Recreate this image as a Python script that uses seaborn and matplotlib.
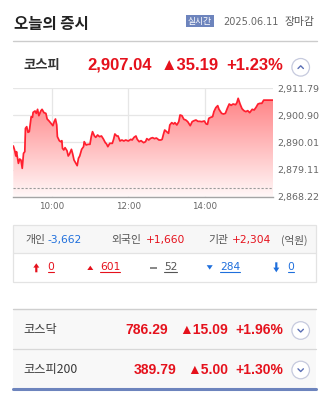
import numpy as np
import matplotlib
matplotlib.use("Agg")
import matplotlib.pyplot as plt
import seaborn as sns
from matplotlib.patches import Rectangle, Circle, Polygon, PathPatch
from matplotlib.colors import LinearSegmentedColormap

# ---------------- data ----------------
minutes = [
    0, 2, 4, 5, 8, 10, 12, 14, 16, 18,
    19, 21, 23, 25, 28, 30, 31, 34, 36, 38,
    40, 43, 45, 48, 51, 53, 56, 59, 62, 64,
    66, 68, 69, 72, 74, 76, 77, 79, 81, 84,
    86, 88, 91, 93, 95, 98, 100, 102, 104, 107,
    110, 111, 114, 117, 120, 122, 124, 127, 129, 132,
    135, 138, 141, 144, 146, 148, 151, 155, 157, 159,
    162, 164, 167, 170, 173, 176, 180, 184, 186, 189,
    192, 194, 197, 200, 204, 207, 209, 212, 215, 218,
    221, 224, 228, 231, 233, 235, 237, 240, 243, 245,
    248, 251, 253, 256, 259, 261, 264, 267, 270, 273,
    277, 280, 283, 286, 289, 292, 295, 299, 302, 304,
    306, 309, 312, 314, 317, 320, 322, 326, 329, 332,
    335, 338, 341, 344, 348, 350, 352, 355, 358, 361,
    364, 367, 370, 374, 377, 380, 383, 386, 389, 392,
    407,
]
prices = [
    2888.60, 2886.99, 2884.58, 2886.32, 2881.63, 2883.37, 2882.97, 2879.62, 2885.65, 2886.32,
    2895.70, 2896.37, 2894.09, 2894.36, 2900.39, 2900.12, 2902.13, 2902.67, 2901.73, 2903.34,
    2900.79, 2902.67, 2903.34, 2902.00, 2901.73, 2899.45, 2898.65, 2897.71, 2896.77, 2898.38,
    2899.45, 2897.04, 2892.35, 2890.74, 2890.34, 2890.74, 2887.66, 2886.99, 2887.93, 2886.72,
    2884.58, 2885.38, 2887.26, 2885.38, 2882.97, 2881.63, 2880.69, 2883.64, 2884.58, 2887.26,
    2888.33, 2890.34, 2889.00, 2889.27, 2889.27, 2892.35, 2894.36, 2892.62, 2892.08, 2893.02,
    2892.35, 2892.62, 2891.41, 2889.94, 2889.40, 2888.33, 2889.67, 2889.67, 2891.28, 2893.42,
    2892.62, 2892.62, 2890.61, 2891.01, 2890.61, 2891.01, 2890.61, 2891.28, 2891.01, 2892.08,
    2892.62, 2891.28, 2890.34, 2890.74, 2889.94, 2890.34, 2891.55, 2891.01, 2891.68, 2891.95,
    2891.55, 2891.81, 2891.01, 2891.01, 2891.28, 2893.29, 2895.03, 2894.36, 2893.69, 2897.04,
    2897.98, 2897.44, 2897.98, 2897.04, 2898.38, 2901.06, 2900.79, 2899.32, 2899.05, 2898.38,
    2896.77, 2898.38, 2898.78, 2899.05, 2898.51, 2898.51, 2898.38, 2898.65, 2897.44, 2897.31,
    2899.72, 2900.12, 2900.39, 2902.40, 2904.01, 2904.81, 2903.34, 2901.73, 2901.46, 2901.73,
    2903.74, 2905.48, 2904.95, 2905.48, 2905.21, 2906.02, 2907.76, 2905.48, 2903.61, 2902.80,
    2902.40, 2902.80, 2902.00, 2903.34, 2903.07, 2904.14, 2905.48, 2905.75, 2905.75, 2907.04,
    2907.04,
]
y_ticks = [2868.22, 2879.11, 2890.01, 2900.90, 2911.79]
x_tick_minutes = [60, 180, 300]
x_tick_labels = ["10:00", "12:00", "14:00"]
x_max = 407

kospi_close = 2907.04
kospi_change = 35.19
kospi_pct = 1.23

investor_names = ["개인", "외국인", "기관"]
investor_values = [-3662, 1660, 2304]

breadth_counts = [0, 601, 52, 284, 0]   # 상한, 상승, 보합, 하락, 하한

index_names = ["코스닥", "코스피200"]
index_values = [786.29, 389.79]
index_changes = [15.09, 5.00]
index_pcts = [1.96, 1.30]

# ---------------- style ----------------
sns.set_theme(style="white")
plt.rcParams["font.family"] = ["Noto Sans CJK KR", "DejaVu Sans"]

RED = "#e5111c"
BLUE = "#1f6fdc"
GRAY = "#555555"
LINE_RED = "#ff1f2f"

fig = plt.figure(figsize=(3.24, 3.97), dpi=100)
fig.patch.set_facecolor("white")

bg = fig.add_axes([0, 0, 1, 1])
bg.set_xlim(0, 324)
bg.set_ylim(397, 0)
bg.axis("off")

KR = ["Noto Sans CJK KR", "DejaVu Sans"]
NUM = ["Liberation Sans", "DejaVu Sans"]

# ---------------- header ----------------
bg.text(13.5, 24, "오늘의 증시", family=KR, fontsize=11.2, weight="bold", color="#222222", va="center")
bg.add_patch(Rectangle((186, 15.3), 27.5, 11.6, facecolor="#6d84bd", edgecolor="none"))
bg.text(199.8, 21.1, "실시간", family=KR, fontsize=6.3, color="white", ha="center", va="center")
bg.text(223.5, 22.3, "2025.06.11", family=["DejaVu Sans"], fontsize=7.0, color="#666666", va="center")
bg.text(284.5, 22.3, "장마감", family=KR, fontsize=7.8, color="#555555", va="center")
bg.plot([13, 317], [40.7, 40.7], color="#cccccc", lw=1)

# KOSPI row
bg.text(23, 65.5, "코스피", family=KR, fontsize=9.6, weight="bold", color="#333333", va="center")
bg.text(151.5, 65.5, f"{kospi_close:,.2f}", family=NUM, fontsize=12, weight="bold", color=RED,
        ha="right", va="center")
bg.text(218.5, 65.5, f"▲{kospi_change:.2f}", family=NUM, fontsize=12, weight="bold", color=RED,
        ha="right", va="center")
bg.text(283.5, 65.5, f"+{kospi_pct:.2f}%", family=NUM, fontsize=12, weight="bold", color=RED,
        ha="right", va="center")


def circle_button(cx, cy, up):
    bg.add_patch(Circle((cx, cy), 8.8, facecolor="white", edgecolor="#c6cade", lw=0.9))
    if up:
        bg.plot([cx - 2.7, cx, cx + 2.7], [cy + 1.2, cy - 1.5, cy + 1.2], color="#5b6fb5", lw=1)
    else:
        bg.plot([cx - 2.7, cx, cx + 2.7], [cy - 1.2, cy + 1.5, cy - 1.2], color="#5b6fb5", lw=1)


circle_button(300.7, 67.3, True)

# ---------------- chart ----------------
ax = fig.add_axes([13.3 / 324, 1 - 196.7 / 397, (273.3 - 13.3) / 324, (196.7 - 88.3) / 397])
ax.set_facecolor("white")
y0, y1 = y_ticks[0], y_ticks[-1]

poly = ax.fill_between(minutes, prices, y0, color="none", lw=0)
clip = PathPatch(poly.get_paths()[0], transform=ax.transData, facecolor="none", edgecolor="none")
ax.add_patch(clip)
cmap = LinearSegmentedColormap.from_list("g", ["#fff8f8", "#ff787b"])
grad = np.linspace(0, 1, 256).reshape(-1, 1)
im = ax.imshow(grad, extent=[0, x_max, y0, y1], origin="lower", aspect="auto", cmap=cmap, zorder=1)
im.set_clip_path(clip)

sns.lineplot(x=minutes, y=prices, ax=ax, color=LINE_RED, lw=1.25, estimator=None, sort=False, zorder=3)
ax.axhline(kospi_close - kospi_change, color="#9a9a9a", lw=0.8, ls=(0, (2, 1.6)), zorder=2)

ax.set_xlim(0, x_max)
ax.set_ylim(y0, y1)
ax.set_xticks(x_tick_minutes)
ax.set_xticklabels(x_tick_labels)
ax.set_yticks(y_ticks)
ax.set_yticklabels([f"{v:,.2f}" for v in y_ticks])
ax.yaxis.tick_right()
ax.tick_params(axis="y", length=0, pad=2.6, labelsize=6.8, labelcolor="#666666")
ax.tick_params(axis="x", length=0, pad=3.6, labelsize=6.3, labelcolor="#666666")
for lab in ax.get_xticklabels() + ax.get_yticklabels():
    lab.set_family("DejaVu Sans")
ax.grid(True, color="#e6e6e6", lw=0.9, zorder=0)
ax.set_axisbelow(True)
for s in ["top", "left", "right"]:
    ax.spines[s].set_visible(False)
ax.spines["bottom"].set_color("#a5a5a5")
ax.spines["bottom"].set_linewidth(1.0)
ax.set_xlabel("")
ax.set_ylabel("")

# ---------------- investor box ----------------
bg.add_patch(Rectangle((13.3, 225), 303, 28, facecolor="#f7f7f7", edgecolor="none"))
bg.add_patch(Rectangle((13.3, 225), 303, 56.7, facecolor="none", edgecolor="#e3e3e3", lw=0.9))
bg.plot([13.3, 316.3], [253, 253], color="#e3e3e3", lw=0.9)

inv_label_x = [25, 111.5, 208.3]
inv_value_x = [47.5, 145.5, 231.5]
for name, val, lx, vx in zip(investor_names, investor_values, inv_label_x, inv_value_x):
    bg.text(lx, 240, name, family=KR, fontsize=7.8, color=GRAY, va="center")
    col = RED if val > 0 else BLUE
    bg.text(vx, 240, f"{val:+,d}", family=["DejaVu Sans"], fontsize=7.7, color=col, va="center")
bg.text(281.5, 240, "(억원)", family=KR, fontsize=7.6, color=GRAY, va="center")

# breadth row icons
bg.add_patch(Polygon([(33.3, 267.6), (36.3, 263.3), (39.3, 267.6), (37.4, 267.6), (37.4, 272.3),
                      (35.2, 272.3), (35.2, 267.6)], closed=True, facecolor=RED, edgecolor="none"))
bg.add_patch(Polygon([(87.3, 270), (90.3, 265.7), (93.3, 270)], closed=True, facecolor=RED, edgecolor="none"))
bg.add_patch(Rectangle((150, 267), 6.7, 2, facecolor="#8a8a8a", edgecolor="none"))
bg.add_patch(Polygon([(206.7, 265.2), (212.7, 265.2), (209.7, 269.6)], closed=True, facecolor=BLUE,
                     edgecolor="none"))
bg.add_patch(Polygon([(273.3, 267.6), (276.3, 272.3), (279.3, 267.6), (277.4, 267.6), (277.4, 262.3),
                      (275.2, 262.3), (275.2, 267.6)], closed=True, facecolor=BLUE, edgecolor="none"))

breadth_x = [47.5, 100, 164, 220, 287.5]
breadth_col = [RED, RED, "#555555", BLUE, BLUE]
breadth_texts = []
for cnt, bx, c in zip(breadth_counts, breadth_x, breadth_col):
    t = bg.text(bx, 267.2, f"{cnt:,d}", family=["DejaVu Sans"], fontsize=7.7, color=c, va="center")
    breadth_texts.append((t, c))

# ---------------- other indices ----------------
bg.add_patch(Rectangle((13.3, 309.3), 303, 80, facecolor="#f8f8f8", edgecolor="none"))
bg.plot([13.3, 316.3], [309.3, 309.3], color="#cfcfcf", lw=1)
bg.plot([13.3, 316.3], [349.3, 349.3], color="#d8d8d8", lw=0.9)
bg.plot([13.3, 316.3], [389.3, 389.3], color="#6d84bd", lw=2.2)

row_y = [330, 369.5]
value_right = [168.5, 176]
for name, v, ch, pc, ry, vr in zip(index_names, index_values, index_changes, index_pcts, row_y, value_right):
    bg.text(23, ry, name, family=KR, fontsize=8.8, color="#3a3a3a", va="center")
    bg.text(vr, ry, f"{v:,.2f}", family=NUM, fontsize=10, weight="bold", color=RED, ha="right", va="center")
    bg.text(228, ry, f"▲{ch:.2f}", family=NUM, fontsize=10, weight="bold", color=RED, ha="right", va="center")
    bg.text(283.5, ry, f"+{pc:.2f}%", family=NUM, fontsize=10, weight="bold", color=RED, ha="right", va="center")
    circle_button(300.7, ry + 0.5, False)

# underline breadth numbers
fig.canvas.draw()
renderer = fig.canvas.get_renderer()
inv = bg.transData.inverted()
for t, c in breadth_texts:
    bb = t.get_window_extent(renderer)
    (xa, _), (xb, _) = inv.transform([(bb.x0, bb.y0), (bb.x1, bb.y1)])
    bg.plot([xa, xb], [272.3, 272.3], color=c, lw=0.8)

fig.savefig("out.png", dpi=100, facecolor="white")
